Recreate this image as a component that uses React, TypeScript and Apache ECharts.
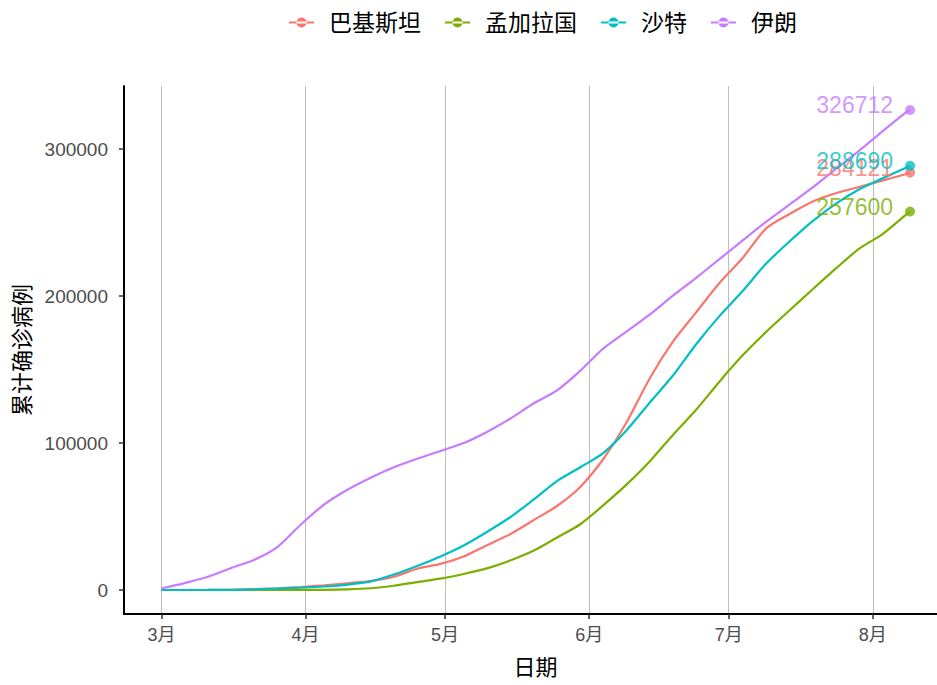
import { useEffect, useRef } from "react";
import * as echarts from "echarts";

// ---- data ----
const dates = [
  "2020-03-01", "2020-03-06", "2020-03-11", "2020-03-16", "2020-03-21", "2020-03-26", "2020-03-31",
  "2020-04-05", "2020-04-10", "2020-04-15", "2020-04-20", "2020-04-25", "2020-04-30",
  "2020-05-05", "2020-05-10", "2020-05-15", "2020-05-20", "2020-05-25", "2020-05-30",
  "2020-06-04", "2020-06-09", "2020-06-14", "2020-06-19", "2020-06-24", "2020-06-29",
  "2020-07-04", "2020-07-09", "2020-07-14", "2020-07-19", "2020-07-24", "2020-07-29",
  "2020-08-03", "2020-08-08", "2020-08-09",
];

const pakistan = [
  0, 0, 20, 100, 600, 1200, 2000,
  3200, 4600, 6000, 9000, 14500, 17800,
  22800, 30500, 38000, 47500, 57000, 70000,
  89000, 114000, 144000, 169000, 189000, 209000,
  226000, 246000, 255800, 264300, 270000, 274300,
  278600, 283000, 284121,
];

const bangladesh = [
  0, 0, 0, 5, 24, 44, 51,
  90, 420, 1200, 2900, 5400, 7700,
  10900, 14700, 20100, 26700, 35600, 44600,
  57600, 71700, 87500, 105500, 122700, 141800,
  159700, 175500, 190100, 204500, 218700, 232200,
  242100, 255100, 257600,
];

const saudi = [
  0, 5, 20, 120, 390, 1000, 1600,
  2400, 3700, 5900, 10500, 16300, 22800,
  30300, 39500, 49500, 61500, 74000, 83400,
  93200, 108600, 127500, 146000, 167300, 186400,
  203500, 222000, 237000, 250900, 262800, 272600,
  280100, 287300, 288690,
];

const iran = [
  1000, 4700, 9000, 15000, 20600, 29400, 44600,
  58200, 68200, 76400, 83500, 89300, 94600,
  100000, 107600, 116600, 126900, 135700, 149000,
  164300, 175900, 187400, 200300, 212500, 225200,
  237900, 250500, 262200, 273800, 286500, 298900,
  312000, 324700, 326712,
];

const seriesNames = ["巴基斯坦", "孟加拉国", "沙特", "伊朗"];
const seriesValues = [pakistan, bangladesh, saudi, iran];
const colors = ["#F8766D", "#7CAE00", "#00BFC4", "#C77CFF"];

const monthTicks = ["2020-03-01", "2020-04-01", "2020-05-01", "2020-06-01", "2020-07-01", "2020-08-01"];
const yTicks = [0, 100000, 200000, 300000];

function ts(s: string): number {
  const [y, m, d] = s.split("-").map(Number);
  return new Date(y, m - 1, d).getTime();
}

const FONT = '"Liberation Sans", "Noto Sans CJK SC", sans-serif';

export default function App() {
  const ref = useRef<HTMLDivElement>(null);

  useEffect(() => {
    if (!ref.current) return;
    const chart = echarts.init(ref.current, undefined, { renderer: "svg" });

    const first = ts(dates[0]);
    const last = ts(dates[dates.length - 1]);
    const span = last - first;
    // ggplot-style 5% expansion on the left; the right side is cut by the picture edge
    const xMin = first - 0.05 * span;
    const xMax = last + 0.036 * span;
    const yDataMax = Math.max(...seriesValues.map((a) => Math.max(...a)));
    const yMin = -0.05 * yDataMax;
    const yMax = 1.05 * yDataMax;
    const lastIdx = dates.length - 1;
    const monthTickValues = monthTicks.map(ts);

    const lineSeries = seriesValues.map((vals, i) => ({
      type: "line",
      name: seriesNames[i],
      data: dates.map((d, j) => [ts(d), vals[j]]),
      showSymbol: false,
      symbol: "circle",
      smooth: 0.25,
      lineStyle: { width: 2.2, color: colors[i] },
      itemStyle: { color: colors[i] },
      z: 2 + i,
    }));

    const endSeries = seriesValues.map((vals, i) => ({
      type: "scatter",
      name: seriesNames[i],
      data: [[ts(dates[lastIdx]), vals[lastIdx]]],
      symbol: "circle",
      symbolSize: 10,
      itemStyle: { color: colors[i] },
      z: 10 + i,
      label: {
        show: true,
        position: "left",
        distance: 12,
        offset: [0, -5],
        color: colors[i],
        fontSize: 23,
        fontFamily: FONT,
        formatter: (p: any) => String(p.value[1]),
      },
    }));

    const legendIcon = "path://M0,9L25,9L25,11L0,11Z M7.5,10A5,5 0 1,0 17.5,10A5,5 0 1,0 7.5,10Z";

    chart.setOption({
      animation: false,
      textStyle: { fontFamily: FONT },
      backgroundColor: "#FFFFFF",
      legend: {
        data: seriesNames.map((n) => ({ name: n, icon: legendIcon })),
        left: 284,
        top: 6,
        itemWidth: 25,
        itemHeight: 10,
        itemGap: 24,
        textStyle: { fontSize: 23, color: "#000000", padding: [0, 0, 0, 10], fontFamily: FONT },
      },
      grid: { left: 124, right: 0, top: 86, bottom: 71, containLabel: false },
      xAxis: {
        type: "value",
        min: xMin,
        max: xMax,
        name: "日期",
        nameLocation: "middle",
        nameGap: 42,
        nameTextStyle: { fontSize: 22, color: "#000000", fontFamily: FONT, padding: [0, 0, 0, 10] },
        axisLine: { show: true, onZero: false, lineStyle: { color: "#000000", width: 2 } },
        axisTick: {
          show: true,
          length: 5,
          customValues: monthTickValues,
          lineStyle: { color: "#333333", width: 1.5 },
        },
        axisLabel: {
          customValues: monthTickValues,
          formatter: (v: number) => `${new Date(v).getMonth() + 1}月`,
          fontSize: 18,
          color: "#4D4D4D",
          margin: 12,
          fontFamily: FONT,
        },
        splitLine: { show: true, lineStyle: { color: "#BEBEBE", width: 1 } },
      },
      yAxis: {
        type: "value",
        min: yMin,
        max: yMax,
        name: "累计确诊病例",
        nameLocation: "middle",
        nameGap: 86,
        nameTextStyle: { fontSize: 22, color: "#000000", fontFamily: FONT },
        axisLine: { show: true, onZero: false, lineStyle: { color: "#000000", width: 2 } },
        axisTick: {
          show: true,
          length: 5,
          customValues: yTicks,
          lineStyle: { color: "#333333", width: 1.5 },
        },
        axisLabel: {
          customValues: yTicks,
          formatter: (v: number) => String(v),
          fontSize: 19,
          color: "#4D4D4D",
          margin: 16,
          fontFamily: FONT,
        },
        splitLine: { show: false },
      },
      series: [...lineSeries, ...endSeries],
    });

    return () => chart.dispose();
  }, []);

  return (
    <div
      ref={ref}
      style={{ position: "fixed", left: 0, top: 0, width: 937, height: 685, background: "#fff" }}
    />
  );
}
